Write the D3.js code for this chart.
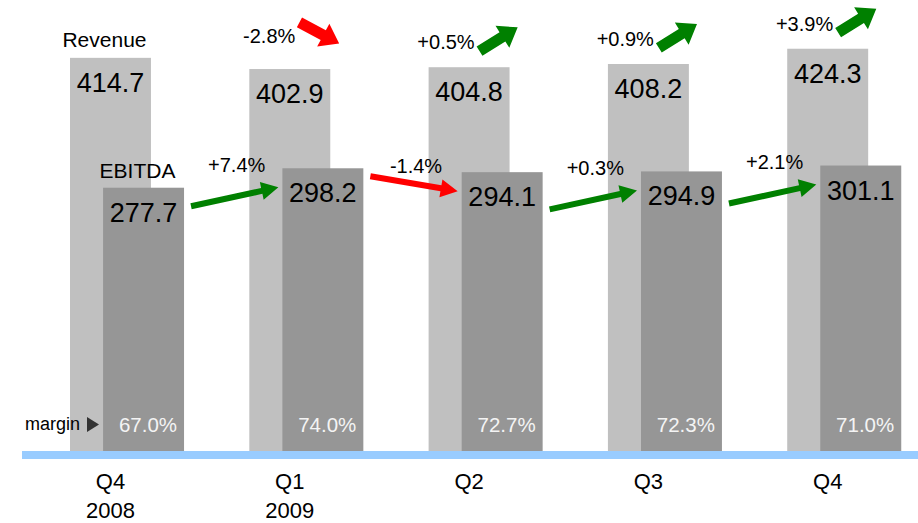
<!DOCTYPE html>
<html>
<head>
<meta charset="utf-8">
<script src="https://cdn.jsdelivr.net/npm/d3@7"></script>
<style>
  html, body { margin: 0; padding: 0; background: #ffffff; }
  svg { display: block; font-family: "Liberation Sans", Arial, sans-serif; }
</style>
</head>
<body>
<svg id="chart" width="918" height="523"></svg>
<script>
// Quarterly revenue vs. EBITDA with quarter-over-quarter change arrows
const periodKeys   = ["Q4 2008", "Q1 2009", "Q2 2009", "Q3 2009", "Q4 2009"];
const quarterLabels = ["Q4", "Q1", "Q2", "Q3", "Q4"];
const yearLabels    = ["2008", "2009", "", "", ""];
const revenue       = [414.7, 402.9, 404.8, 408.2, 424.3];
const ebitda        = [277.7, 298.2, 294.1, 294.9, 301.1];
const marginPct     = [67.0, 74.0, 72.7, 72.3, 71.0];
const revenueChange = [null, -2.8, 0.5, 0.9, 3.9];
const ebitdaChange  = [null, 7.4, -1.4, 0.3, 2.1];

const COLORS = {
  revenue: "#c0c0c0",
  ebitda: "#969696",
  up: "#008000",
  down: "#ff0000",
  axis: "#99ccff",
  text: "#000000",
  marginText: "#f4f4f4"
};

const svg = d3.select("#chart");
const baseY = 451;

const x = d3.scaleBand()
  .domain(periodKeys)
  .range([70, 901.25])
  .paddingInner(0.364)
  .paddingOuter(0);

const y = d3.scaleLinear().domain([0, 475.7]).range([baseY, 0]);

const bw = x.bandwidth();
const barW = bw * 0.71;
const revX = i => x(periodKeys[i]);
const ebX = i => x(periodKeys[i]) + bw - barW;

// plain hyphen for negative numbers
const locale = d3.formatLocale({ decimal: ".", thousands: ",", grouping: [3], currency: ["", ""], minus: "-" });
const fmt1 = locale.format(".1f");
const fmtChange = locale.format("+.1f");
const fmtPct = v => fmtChange(v) + "%";

// block arrow polygon from (x1,y1) to tip (x2,y2)
function arrowPath(x1, y1, x2, y2, shaftW, headW, headL) {
  const dx = x2 - x1, dy = y2 - y1;
  const len = Math.hypot(dx, dy);
  const ux = dx / len, uy = dy / len;
  const nx = -uy, ny = ux;
  const bx = x2 - ux * headL, by = y2 - uy * headL;
  const s = shaftW / 2, h = headW / 2;
  const pts = [
    [x1 + nx * s, y1 + ny * s],
    [bx + nx * s, by + ny * s],
    [bx + nx * h, by + ny * h],
    [x2, y2],
    [bx - nx * h, by - ny * h],
    [bx - nx * s, by - ny * s],
    [x1 - nx * s, y1 - ny * s]
  ];
  return "M" + pts.map(p => p.join(",")).join("L") + "Z";
}

const idx = d3.range(periodKeys.length);

// revenue bars (behind)
svg.append("g").selectAll("rect")
  .data(idx).join("rect")
  .attr("x", i => revX(i))
  .attr("y", i => y(revenue[i]))
  .attr("width", barW)
  .attr("height", i => baseY - y(revenue[i]))
  .attr("fill", COLORS.revenue);

// EBITDA bars (front)
svg.append("g").selectAll("rect")
  .data(idx).join("rect")
  .attr("x", i => ebX(i))
  .attr("y", i => y(ebitda[i]))
  .attr("width", barW)
  .attr("height", i => baseY - y(ebitda[i]))
  .attr("fill", COLORS.ebitda);

// baseline
svg.append("rect")
  .attr("x", 22).attr("y", baseY)
  .attr("width", 918 - 22).attr("height", 8)
  .attr("fill", COLORS.axis);

// value labels
svg.append("g").selectAll("text")
  .data(idx).join("text")
  .attr("x", i => revX(i) + barW / 2)
  .attr("y", i => y(revenue[i]) + 34)
  .attr("text-anchor", "middle")
  .attr("font-size", 27)
  .attr("fill", COLORS.text)
  .text(i => fmt1(revenue[i]));

svg.append("g").selectAll("text")
  .data(idx).join("text")
  .attr("x", i => ebX(i) + barW / 2)
  .attr("y", i => y(ebitda[i]) + 34)
  .attr("text-anchor", "middle")
  .attr("font-size", 27)
  .attr("fill", COLORS.text)
  .text(i => fmt1(ebitda[i]));

// margin labels
svg.append("g").selectAll("text")
  .data(idx).join("text")
  .attr("x", i => ebX(i) + barW - 7)
  .attr("y", 432)
  .attr("text-anchor", "end")
  .attr("font-size", 20.5)
  .attr("fill", COLORS.marginText)
  .text(i => fmt1(marginPct[i]) + "%");

svg.append("text")
  .attr("x", 80).attr("y", 430)
  .attr("text-anchor", "end")
  .attr("font-size", 18)
  .attr("fill", COLORS.text)
  .text("margin");
svg.append("path")
  .attr("d", "M87,417L99,424.5L87,432Z")
  .attr("fill", "#333333");

// series names above first period
svg.append("text")
  .attr("x", revX(0) + barW / 2 - 6)
  .attr("y", y(revenue[0]) - 11)
  .attr("text-anchor", "middle")
  .attr("font-size", 21)
  .attr("fill", COLORS.text)
  .text("Revenue");
svg.append("text")
  .attr("x", ebX(0) + barW / 2 - 6)
  .attr("y", y(ebitda[0]) - 10)
  .attr("text-anchor", "middle")
  .attr("font-size", 21)
  .attr("fill", COLORS.text)
  .text("EBITDA");

// category axis labels
const cat = svg.append("g").selectAll("g")
  .data(idx).join("g")
  .attr("transform", i => `translate(${revX(i) + barW / 2},0)`);
cat.append("text")
  .attr("y", 489).attr("text-anchor", "middle")
  .attr("font-size", 22).attr("fill", COLORS.text)
  .text(i => quarterLabels[i]);
cat.append("text")
  .attr("y", 518).attr("text-anchor", "middle")
  .attr("font-size", 22).attr("fill", COLORS.text)
  .text(i => yearLabels[i]);

// revenue change: label + thick arrow
const revIdx = idx.filter(i => revenueChange[i] !== null);
const revG = svg.append("g").selectAll("g").data(revIdx).join("g");
revG.each(function (i) {
  const g = d3.select(this);
  const up = revenueChange[i] > 0;
  const baseline = y(revenue[i]) - (up ? 18 : 26);
  const left = revX(i);
  g.append("text")
    .attr("x", left + 46).attr("y", baseline)
    .attr("text-anchor", "end")
    .attr("font-size", 20).attr("fill", COLORS.text)
    .text(fmtPct(revenueChange[i]));
  const cx = left + 70, cy = baseline - 10;
  const ang = (up ? -32 : 28) * Math.PI / 180;
  const half = 22.5;
  g.append("path")
    .attr("d", arrowPath(cx - half * Math.cos(ang), cy - half * Math.sin(ang),
                         cx + half * Math.cos(ang), cy + half * Math.sin(ang),
                         11, 26, 18))
    .attr("fill", up ? COLORS.up : COLORS.down);
});

// EBITDA change: label + slim arrow between bars
const ebIdx = idx.filter(i => ebitdaChange[i] !== null);
const ebG = svg.append("g").selectAll("g").data(ebIdx).join("g");
ebG.each(function (i) {
  const g = d3.select(this);
  const up = ebitdaChange[i] > 0;
  const x1 = ebX(i - 1) + barW + 7;
  const x2 = ebX(i) - 4;
  const y2 = y(ebitda[i]) + 19;
  const y1 = y2 + (up ? 19 : -15);
  g.append("path")
    .attr("d", arrowPath(x1, y1, x2, y2, 6, 18, 17))
    .attr("fill", up ? COLORS.up : COLORS.down);
  const mx = (x1 + x2) / 2, my = (y1 + y2) / 2;
  g.append("text")
    .attr("x", mx + 2).attr("y", my - (up ? 25 : 11))
    .attr("text-anchor", "middle")
    .attr("font-size", 20).attr("fill", COLORS.text)
    .text(fmtPct(ebitdaChange[i]));
});
</script>
</body>
</html>
